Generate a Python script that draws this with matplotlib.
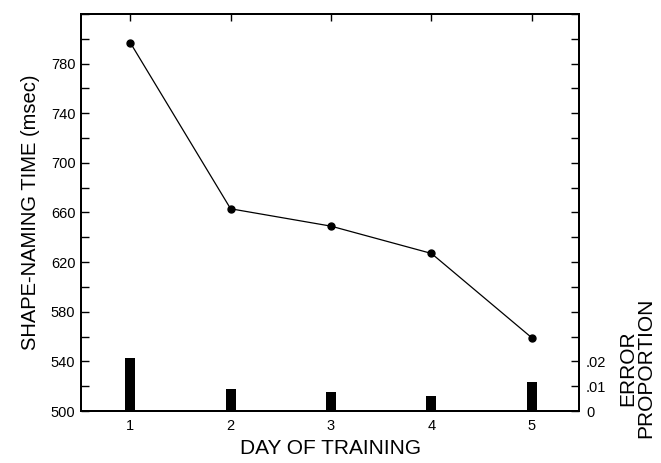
import numpy as np
import matplotlib
matplotlib.use("Agg")
import matplotlib.pyplot as plt

plt.rcParams['font.family'] = ['Liberation Sans', 'DejaVu Sans']

# data
days = [1, 2, 3, 4, 5]
naming_time = [797, 663, 649, 627, 559]          # msec
error_prop = [0.0215, 0.009, 0.0077, 0.006, 0.0115]

ytick_major = np.arange(500, 781, 40)
ytick_minor = np.arange(500, 821, 20)
err_labels = ['0', '.01', '.02']

fig = plt.figure(figsize=(6.61, 4.63), dpi=100)
ax = fig.add_axes([0.1225, 0.1123, 0.7535, 0.8575])

ax.plot(days, naming_time, color='black', lw=0.9, marker='o', ms=5, zorder=3)
ax.set_xlim(0.51, 5.47)
ax.set_ylim(500, 820)
ax.set_yticks(ytick_major)
ax.set_yticks(ytick_minor, minor=True)
ax.set_xticks(days)
ax.tick_params(axis='y', which='both', direction='in', length=6, width=1,
               labelsize=10.5, pad=4, right=False)
ax.tick_params(axis='x', which='both', direction='in', length=5, width=1,
               labelsize=10.5, pad=6, top=True, bottom=False)
for s in ax.spines.values():
    s.set_linewidth(1.4)

ax.set_ylabel('SHAPE-NAMING TIME (msec)', fontsize=14.5, labelpad=8)
ax.set_xlabel('DAY OF TRAINING', fontsize=15, labelpad=4)

# error proportion bars on a second scale (0.01 = 20 msec)
ax2 = ax.twinx()
ax2.bar(days, error_prop, width=0.1, color='black', zorder=2)
ax2.set_ylim(0, 0.16)
rt = np.arange(0, 0.161, 0.01)
ax2.set_yticks(rt)
ax2.set_yticklabels([err_labels[i] if i < 3 else '' for i in range(len(rt))])
ax2.tick_params(axis='y', direction='in', length=6, width=1, labelsize=10.5, pad=5)
for s in ax2.spines.values():
    s.set_linewidth(1.4)

fig.text(0.963, 0.205, 'ERROR\nPROPORTION', rotation=90, fontsize=15,
         ha='center', va='center', linespacing=0.9)

fig.savefig('out.png', dpi=100)
